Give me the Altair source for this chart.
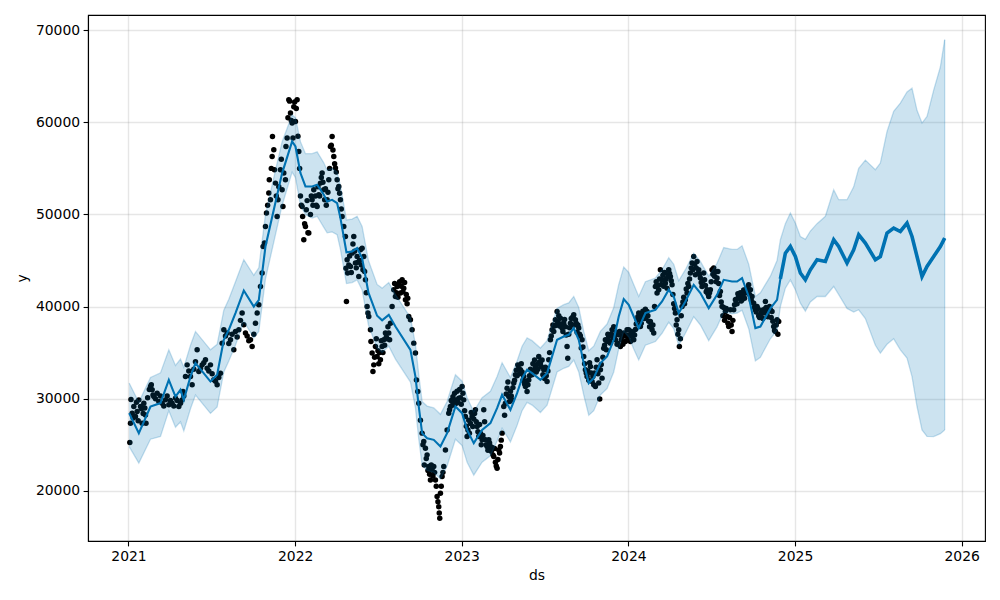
import altair as alt
import pandas as pd

# ---- forecast (ds in decimal years) ----
fc_ds = [
    2021.004, 2021.062, 2021.132, 2021.192, 2021.242, 2021.282, 2021.312, 2021.332, 2021.372, 2021.402,
    2021.492, 2021.532, 2021.572, 2021.602, 2021.642, 2021.692, 2021.752, 2021.782, 2021.822, 2021.872,
    2021.922, 2021.982, 2022.002, 2022.032, 2022.062, 2022.102, 2022.132, 2022.172, 2022.192, 2022.222,
    2022.252, 2022.272, 2022.308, 2022.342, 2022.372, 2022.402, 2022.440, 2022.492, 2022.522, 2022.562,
    2022.602, 2022.692, 2022.722, 2022.742, 2022.762, 2022.792, 2022.832, 2022.872, 2022.912, 2022.962,
    2023.002, 2023.032, 2023.072, 2023.122, 2023.172, 2023.212, 2023.242, 2023.292, 2023.332, 2023.362,
    2023.392, 2023.422, 2023.472, 2023.512, 2023.572, 2023.612, 2023.642, 2023.672, 2023.702, 2023.732,
    2023.762, 2023.792, 2023.832, 2023.872, 2023.912, 2023.942, 2023.972, 2024.002, 2024.032, 2024.062,
    2024.102, 2024.162, 2024.202, 2024.242, 2024.272, 2024.302, 2024.342, 2024.392, 2024.432, 2024.482,
    2024.532, 2024.572, 2024.622, 2024.652, 2024.682, 2024.722, 2024.762, 2024.792, 2024.852, 2024.892,
    2024.912, 2024.942, 2024.972, 2025.002, 2025.032, 2025.062, 2025.092, 2025.132, 2025.182, 2025.232,
    2025.262, 2025.312, 2025.352, 2025.382, 2025.422, 2025.482, 2025.512, 2025.552, 2025.592, 2025.632,
    2025.672, 2025.702, 2025.732, 2025.762, 2025.792, 2025.832, 2025.872, 2025.898,
]
fc_yhat = [
    28430, 26260, 29150, 29520, 32040, 30230, 30960, 29870, 32400, 33860,
    31860, 32590, 36390, 37480, 39290, 41740, 40000, 40700, 46520, 50500,
    54490, 57920, 57380, 54490, 53040, 53040, 53220, 52140, 51410, 51590,
    51230, 49600, 45900, 45980, 46340, 45260, 41500, 39000, 38500, 39100,
    37830, 35300, 32400, 29150, 26260, 25710, 25530, 24800, 26260, 29150,
    28430, 26610, 25170, 26610, 27340, 28970, 30420, 28790, 30600, 32230,
    33130, 32770, 32050, 32770, 36390, 36750, 36930, 37660, 36390, 33860,
    31690, 32230, 33860, 34580, 36390, 38920, 40810, 40190, 38920, 37660,
    39290, 39650, 40550, 41820, 41090, 39290, 40550, 42360, 41460, 39830,
    41270, 42900, 42720, 42720, 43090, 41090, 37660, 37830, 39800, 40730,
    43000, 45800, 46520, 45430, 43640, 42900, 43990, 45080, 44890, 47250,
    46520, 44720, 46160, 47790, 46890, 45080, 45430, 47980, 48520, 48150,
    49060, 47610, 45430, 43260, 44350, 45430, 46520, 47430,
]
fc_lower = [
    24800, 23000, 25600, 25900, 28700, 26900, 27500, 26500, 28900, 30400,
    28400, 29100, 32900, 34100, 35800, 38400, 36600, 37300, 43000, 47000,
    51000, 54600, 54000, 51000, 50000, 49600, 49800, 48600, 48000, 48100,
    47800, 46200, 42500, 42600, 42900, 41800, 38000, 35500, 35000, 35700,
    34300, 31800, 29000, 25600, 22800, 22200, 22000, 21300, 22700, 25600,
    24900, 23100, 21700, 23100, 23800, 25400, 26800, 25300, 27100, 28700,
    29600, 29300, 28500, 29300, 32900, 33300, 33500, 34200, 32900, 30400,
    28200, 28700, 30400, 31100, 32900, 35400, 37300, 36700, 35400, 34200,
    35800, 36200, 37100, 38300, 37600, 35800, 37100, 38900, 38000, 36300,
    37800, 39400, 39200, 39300, 39600, 37600, 34100, 34500, 36500, 37400,
    40000, 42000, 42900, 41820, 40370, 39500, 40500, 41090, 41090, 42180,
    41300, 39800, 39400, 39650, 38700, 35800, 34940, 35900, 36500, 35300,
    34400, 32400, 29150, 26610, 25900, 25890, 26200, 26610,
]
fc_upper = [
    31700, 29600, 32300, 32800, 35300, 33600, 34300, 33400, 35800, 37300,
    35300, 35900, 39600, 40800, 42700, 45100, 43400, 44200, 50000, 54000,
    57900, 60800, 60500, 57900, 56600, 56600, 56800, 55600, 54800, 55000,
    54600, 53100, 49400, 49500, 49800, 48700, 45000, 42400, 42000, 42600,
    41300, 38800, 35900, 32600, 29700, 29200, 29000, 28300, 29700, 32600,
    31900, 30100, 28600, 30100, 30800, 32400, 33900, 32300, 34100, 35700,
    36600, 36300, 35500, 36300, 39800, 40200, 40400, 41100, 39900, 37300,
    35200, 35700, 37300, 38100, 39900, 42400, 44300, 43700, 42400, 41100,
    42700, 43100, 44000, 45300, 44600, 42800, 44000, 45800, 44900, 43300,
    44700, 46400, 46200, 46200, 46600, 44600, 41100, 41500, 43300, 45000,
    47250, 49000, 50150, 49060, 47610, 47300, 48200, 49000, 49800, 52680,
    51600, 51600, 53000, 55000, 55900, 54850, 55580, 59000, 61200, 62090,
    63300, 63700, 61300, 59920, 60640, 63500, 66000, 68970,
]

# ---- observed history (ds in decimal years, y), first pass ----
obs_ds = [
    2021.008, 2021.012, 2021.022, 2021.032, 2021.042, 2021.052, 2021.062, 2021.072, 2021.082, 2021.092,
    2021.102, 2021.105, 2021.132, 2021.142, 2021.152, 2021.172, 2021.202, 2021.222, 2021.242, 2021.262,
    2021.282, 2021.302, 2021.322, 2021.327, 2021.342, 2021.352, 2021.372, 2021.382, 2021.412, 2021.422,
    2021.442, 2021.462, 2021.472, 2021.492, 2021.512, 2021.532, 2021.552, 2021.562, 2021.572, 2021.592,
    2021.612, 2021.632, 2021.642, 2021.662, 2021.682, 2021.692, 2021.702, 2021.712, 2021.732, 2021.742,
    2021.762, 2021.772, 2021.792, 2021.802, 2021.808, 2021.816, 2021.822, 2021.828, 2021.842, 2021.845,
    2021.852, 2021.862, 2021.864, 2021.872, 2021.876, 2021.882, 2021.892, 2021.897, 2021.912, 2021.922,
    2021.927, 2021.942, 2021.945, 2021.952, 2021.962, 2021.972, 2021.982, 2021.992,
    2022.002, 2022.012, 2022.022, 2022.042, 2022.045, 2022.052, 2022.062, 2022.082, 2022.102, 2022.112,
    2022.132, 2022.142, 2022.152, 2022.162, 2022.172, 2022.192, 2022.202, 2022.212, 2022.222, 2022.232,
    2022.242, 2022.252, 2022.262, 2022.272, 2022.282, 2022.292, 2022.302, 2022.305, 2022.308, 2022.312,
    2022.315, 2022.332, 2022.352, 2022.362, 2022.372, 2022.382, 2022.392, 2022.402, 2022.412, 2022.422,
    2022.432, 2022.442, 2022.452, 2022.455, 2022.462, 2022.467, 2022.472, 2022.482, 2022.492, 2022.512,
    2022.522, 2022.532, 2022.542, 2022.552, 2022.562, 2022.572, 2022.582, 2022.592, 2022.602, 2022.612,
    2022.622, 2022.632, 2022.642, 2022.652, 2022.662, 2022.676, 2022.682, 2022.692, 2022.702, 2022.712,
    2022.722, 2022.728, 2022.736, 2022.742, 2022.752, 2022.762, 2022.772, 2022.775, 2022.782, 2022.792,
    2022.802, 2022.812, 2022.822, 2022.832, 2022.842, 2022.852, 2022.862, 2022.868, 2022.872, 2022.882,
    2022.892, 2022.902, 2022.912, 2022.922, 2022.932, 2022.942, 2022.962, 2022.982,
    2023.002, 2023.012, 2023.022, 2023.032, 2023.042, 2023.046, 2023.062, 2023.066, 2023.082, 2023.092,
    2023.112, 2023.122, 2023.132, 2023.142, 2023.152, 2023.162, 2023.172, 2023.192, 2023.212, 2023.222,
    2023.232, 2023.242, 2023.252, 2023.262, 2023.272, 2023.282, 2023.302, 2023.312, 2023.322, 2023.336,
    2023.352, 2023.372, 2023.382, 2023.392, 2023.402, 2023.422, 2023.442, 2023.462, 2023.472, 2023.492,
    2023.512, 2023.522, 2023.532, 2023.542, 2023.552, 2023.562, 2023.572, 2023.592, 2023.602, 2023.612,
    2023.632, 2023.636, 2023.652, 2023.672, 2023.682, 2023.702, 2023.722, 2023.732, 2023.742, 2023.752,
    2023.772, 2023.782, 2023.802, 2023.812, 2023.828, 2023.832, 2023.842, 2023.852, 2023.872, 2023.882,
    2023.892, 2023.902, 2023.922, 2023.932, 2023.942, 2023.952, 2023.962, 2023.972, 2023.982, 2023.992,
    2024.002, 2024.022, 2024.032, 2024.052, 2024.062, 2024.072, 2024.082, 2024.092, 2024.112, 2024.132,
    2024.142, 2024.152, 2024.162, 2024.172, 2024.182, 2024.192, 2024.202, 2024.222, 2024.242, 2024.252,
    2024.262, 2024.282, 2024.292, 2024.302, 2024.306, 2024.322, 2024.342, 2024.352, 2024.362, 2024.372,
    2024.382, 2024.392, 2024.402, 2024.412, 2024.422, 2024.432, 2024.442, 2024.452, 2024.472, 2024.482,
    2024.492, 2024.502, 2024.522, 2024.532, 2024.552, 2024.582, 2024.592, 2024.602, 2024.612, 2024.622,
    2024.632, 2024.642, 2024.662, 2024.682, 2024.702, 2024.722, 2024.732, 2024.742, 2024.752, 2024.762,
    2024.772, 2024.792, 2024.812, 2024.822, 2024.832, 2024.852, 2024.862, 2024.872, 2024.882, 2024.892,
    2024.902,
]
obs_y = [
    25240, 27340, 28430, 29150, 28060, 28610, 29870, 29150, 27340, 29510,
    28240, 27340, 31320, 30960, 30240, 30600, 29510, 29870, 29330, 29510,
    30060, 29150, 29870, 30780, 32400, 33670, 32400, 31500, 35300, 32950,
    33670, 34220, 33310, 33670, 32050, 31500, 32770, 36030, 37480, 37120,
    36390, 35300, 37300, 37480, 39290, 38020, 37120, 36800, 36390, 35660,
    38200, 39290, 42180, 43640, 46520, 46890, 48700, 50150, 52320, 53760,
    51590, 56290, 58470, 57020, 54850, 53400, 49780, 51590, 54850, 52680,
    50860, 53760, 57380, 58290, 62450, 61010, 59920, 61680,
    60100, 62450, 56840, 50860, 49780, 47250, 48700, 47980, 51590, 52680,
    50860, 52140, 53400, 54490, 52680, 51590, 53760, 57380, 58470, 56290,
    55030, 53760, 53040, 51590, 49780, 48700, 47610, 44170, 40550, 45080,
    43640, 44350, 47610, 44720, 45430, 43260, 46160, 46340, 45430, 42900,
    40000, 38920, 37480, 36210, 34950, 32950, 33670, 35660, 34580, 34220,
    35660, 36390, 37120, 36500, 37120, 38200, 40000, 41820, 41090, 42180,
    42360, 41460, 42900, 41990, 40730, 40910, 38920, 38560, 37480, 36030,
    34950, 32040, 30780, 29510, 27660, 26260, 25350, 22810, 24630, 23900,
    22630, 21180, 22270, 22630, 21180, 19370, 18280, 17020, 19740, 21550,
    22630, 24440, 26610, 28430, 29150, 29690, 29870, 30060,
    31320, 29870, 28060, 25890, 27660, 26260, 28060, 26970, 28790, 26970,
    26260, 25530, 28790, 25530, 24800, 25530, 24800, 23720, 22450, 24440,
    24800, 26260, 29150, 29510, 31140, 30240, 29870, 31690, 32590, 33670,
    33130, 32410, 31320, 30780, 32040, 32590, 33490, 34580, 33860, 33130,
    31860, 34220, 36390, 37480, 37300, 38560, 39470, 38740, 37660, 38200,
    35660, 34400, 38200, 39100, 38560, 37660, 36390, 34580, 33130, 32410,
    33490, 31860, 31320, 34220, 29960, 33130, 32230, 35480, 36210, 36750,
    36030, 37480, 36390, 35900, 36930, 35660, 36750, 37120, 36210, 37480,
    37480, 36750, 36390, 38560, 39290, 37830, 38920, 39290, 39470, 38380,
    37480, 37120, 42180, 41460, 41820, 43990, 42900, 42540, 43990, 43270,
    42360, 39290, 38560, 37480, 35660, 40000, 40730, 41460, 42180, 43640,
    44720, 45430, 43450, 44890, 43990, 43090, 42180, 43640, 41820, 41090,
    41820, 43990, 43810, 43090, 41640, 39470, 38920, 37830, 39650, 37300,
    39650, 40730, 41090, 40730, 41460, 42360, 41820, 41090, 40370, 39650,
    40000, 38920, 39290, 40550, 39290, 39650, 39470, 37830, 37300, 38560,
    38380,
]

# ---- observed history, second pass (denser clusters) ----
obs_more_ds = [
    2021.015, 2021.028, 2021.048, 2021.058, 2021.078, 2021.088, 2021.098, 2021.115, 2021.125, 2021.137,
    2021.147, 2021.162, 2021.182, 2021.192, 2021.212, 2021.232, 2021.252, 2021.272, 2021.292, 2021.312,
    2021.332, 2021.362, 2021.392, 2021.402, 2021.432, 2021.452, 2021.482, 2021.502, 2021.522, 2021.542,
    2021.582, 2021.602, 2021.622, 2021.652, 2021.672, 2021.722, 2021.752, 2021.782, 2021.835, 2021.857,
    2021.887, 2021.902, 2021.917, 2021.932, 2021.957, 2021.967, 2021.977, 2021.987, 2021.997, 2022.007,
    2022.017, 2022.027, 2022.032, 2022.037, 2022.057, 2022.067, 2022.072, 2022.077, 2022.092, 2022.097,
    2022.107, 2022.122, 2022.127, 2022.137, 2022.147, 2022.157, 2022.167, 2022.177, 2022.182, 2022.187,
    2022.197, 2022.207, 2022.217, 2022.227, 2022.237, 2022.247, 2022.257, 2022.267, 2022.277, 2022.322,
    2022.327, 2022.337, 2022.342, 2022.347, 2022.357, 2022.367, 2022.377, 2022.387, 2022.397, 2022.407,
    2022.417, 2022.427, 2022.437, 2022.477, 2022.487, 2022.497, 2022.502, 2022.507, 2022.517, 2022.527,
    2022.537, 2022.547, 2022.557, 2022.567, 2022.597, 2022.607, 2022.617, 2022.627, 2022.637, 2022.647,
    2022.657, 2022.667, 2022.672, 2022.767, 2022.787, 2022.797, 2022.807, 2022.817, 2022.827, 2022.837,
    2022.847, 2022.857, 2022.865, 2022.877, 2022.887, 2022.927, 2022.937, 2022.947, 2022.952, 2022.957,
    2022.967, 2022.972, 2022.977, 2022.987, 2022.992, 2022.997, 2023.007, 2023.017, 2023.027, 2023.037,
    2023.052, 2023.057, 2023.072, 2023.077, 2023.087, 2023.097, 2023.102, 2023.107, 2023.117, 2023.127,
    2023.137, 2023.147, 2023.157, 2023.167, 2023.177, 2023.182, 2023.187, 2023.197, 2023.202, 2023.207,
    2023.217, 2023.227, 2023.237, 2023.257, 2023.267, 2023.277, 2023.287, 2023.292, 2023.297, 2023.307,
    2023.317, 2023.327, 2023.332, 2023.342, 2023.347, 2023.357, 2023.362, 2023.367, 2023.377, 2023.387,
    2023.397, 2023.407, 2023.412, 2023.417, 2023.427, 2023.432, 2023.437, 2023.447, 2023.452, 2023.457,
    2023.467, 2023.477, 2023.482, 2023.487, 2023.497, 2023.502, 2023.507, 2023.517, 2023.527, 2023.537,
    2023.547, 2023.557, 2023.567, 2023.577, 2023.582, 2023.587, 2023.597, 2023.607, 2023.617, 2023.622,
    2023.627, 2023.642, 2023.647, 2023.657, 2023.662, 2023.667, 2023.677, 2023.687, 2023.692, 2023.697,
    2023.707, 2023.712, 2023.717, 2023.727, 2023.737, 2023.747, 2023.757, 2023.762, 2023.767, 2023.777,
    2023.787, 2023.792, 2023.797, 2023.807, 2023.817, 2023.822, 2023.837, 2023.847, 2023.857, 2023.862,
    2023.867, 2023.877, 2023.887, 2023.897, 2023.907, 2023.912, 2023.917, 2023.927, 2023.937, 2023.947,
    2023.957, 2023.967, 2023.977, 2023.987, 2023.997, 2024.007, 2024.012, 2024.017, 2024.027, 2024.037,
    2024.042, 2024.047, 2024.057, 2024.067, 2024.077, 2024.087, 2024.097, 2024.102, 2024.107, 2024.117,
    2024.122, 2024.127, 2024.137, 2024.147, 2024.157, 2024.167, 2024.177, 2024.187, 2024.197, 2024.207,
    2024.212, 2024.217, 2024.227, 2024.232, 2024.237, 2024.247, 2024.257, 2024.267, 2024.272, 2024.277,
    2024.287, 2024.297, 2024.312, 2024.317, 2024.327, 2024.332, 2024.337, 2024.347, 2024.357, 2024.367,
    2024.377, 2024.387, 2024.397, 2024.407, 2024.417, 2024.427, 2024.437, 2024.447, 2024.457, 2024.462,
    2024.467, 2024.477, 2024.487, 2024.497, 2024.507, 2024.512, 2024.517, 2024.527, 2024.537, 2024.542,
    2024.547, 2024.557, 2024.562, 2024.567, 2024.572, 2024.577, 2024.587, 2024.597, 2024.607, 2024.617,
    2024.627, 2024.637, 2024.647, 2024.652, 2024.657, 2024.667, 2024.672, 2024.677, 2024.687, 2024.692,
    2024.697, 2024.707, 2024.712, 2024.717, 2024.727, 2024.737, 2024.747, 2024.757, 2024.767, 2024.777,
    2024.782, 2024.787, 2024.797, 2024.802, 2024.807, 2024.817, 2024.827, 2024.837, 2024.842, 2024.847,
    2024.857, 2024.867, 2024.877, 2024.887, 2024.897,
]
obs_more_y = [
    29900, 27900, 29600, 27600, 28900, 28400, 29000, 30100, 31000, 31500,
    30400, 30000, 29700, 30300, 29200, 30300, 29800, 29200, 29800, 29500,
    30300, 33000, 33200, 34000, 33300, 33900, 33000, 32700, 31900, 32300,
    36800, 36000, 37000, 36700, 38500, 36300, 37000, 40200, 51000, 55000,
    52000, 53000, 56000, 54500, 60500, 62300, 60200, 58300, 62200, 61500,
    58500, 55000, 52000, 51000, 49000, 50500, 51500, 48000, 50000, 52000,
    51000, 52000, 51000, 53000, 52000, 54000, 53500, 51600, 52800, 51000,
    52400, 55000, 57500, 57000, 55500, 54600, 52800, 52300, 50600, 44500,
    45500, 43700, 45800, 46800, 46000, 44200, 44800, 45000, 44500, 44000,
    43800, 41500, 39300, 34500, 36500, 35200, 33800, 35000, 36300, 35000,
    35800, 36700, 37800, 36400, 42500, 41500, 41000, 42700, 42200, 41600,
    42600, 41300, 40300, 25000, 23500, 22200, 21800, 22800, 21600, 22000,
    20500, 18800, 17600, 20500, 22000, 28800, 29800, 30200, 29300, 30600,
    29500, 30800, 29600, 31000, 30100, 29400, 30600, 28700, 27000, 26600,
    27300, 28500, 27800, 28400, 27500, 26400, 25900, 27200, 25000, 26000,
    27500, 25000, 24400, 25200, 24300, 24700, 23900, 24600, 23100, 22700,
    23400, 24100, 25500, 28200, 30500, 31800, 29700, 30800, 30300, 31200,
    32000, 33100, 32500, 33300, 32700, 33800, 32900, 32000, 31600, 31900,
    31500, 32500, 33200, 33000, 33800, 33100, 34200, 32900, 33700, 33200,
    34000, 33500, 34200, 32600, 32200, 33400, 32500, 33000, 35000, 36800,
    38000, 37900, 38000, 38300, 39000, 37900, 38100, 37300, 38600, 37800,
    36900, 37000, 37700, 38700, 38000, 38900, 38000, 38200, 37200, 38000,
    37000, 36800, 35500, 35600, 33800, 32800, 33000, 32000, 33900, 32800,
    32400, 31500, 32800, 33400, 32700, 31700, 33700, 34500, 35800, 36400,
    35300, 37000, 36200, 37000, 36600, 37800, 36800, 37200, 36000, 37300,
    36400, 35900, 36800, 36900, 36600, 36900, 36200, 37300, 37100, 36900,
    37500, 38100, 38900, 38600, 38200, 39500, 38700, 39700, 38900, 39000,
    38400, 37800, 37900, 38000, 40000, 42700, 42300, 43000, 42400, 43400,
    42200, 43700, 43000, 42000, 43300, 43600, 42800, 41300, 40300, 39800,
    38000, 37000, 36500, 39000, 40500, 41000, 40300, 41900, 42500, 43000,
    44200, 44000, 44600, 44200, 43600, 43500, 42600, 42800, 42900, 42300,
    41600, 41400, 41500, 42700, 43500, 44200, 43300, 42700, 43800, 42500,
    41200, 40500, 40000, 39000, 39900, 38500, 39800, 38200, 38800, 38000,
    38500, 40200, 40800, 40300, 41400, 40900, 41500, 40600, 41200, 41800,
    40900, 41900, 42000, 41600, 41300, 40700, 40400, 39900, 39400, 39800,
    39000, 38800, 39300, 39600, 38700, 39700, 39900, 38900, 39800, 40000,
    38800, 38400, 37400, 38000, 37000,
]

x_ticks = [2021, 2022, 2023, 2024, 2025, 2026]
y_ticks = [20000, 30000, 40000, 50000, 60000, 70000]

fc = pd.DataFrame({"ds": fc_ds, "yhat": fc_yhat, "yhat_lower": fc_lower, "yhat_upper": fc_upper})
obs = pd.DataFrame({"ds": obs_ds + obs_more_ds, "y": obs_y + obs_more_y})

BLUE = "#0072B2"
xs = alt.Scale(domain=[2020.757, 2026.14], nice=False, zero=False)
ys = alt.Scale(domain=[14550, 71650], nice=False, zero=False)
xax = alt.Axis(values=x_ticks, format="d", title="ds")
yax = alt.Axis(values=y_ticks, format="d", title="y")


def X():
    return alt.X("ds:Q", scale=xs, axis=xax)


def Y(field):
    return alt.Y(field + ":Q", scale=ys, axis=yax)


dots = alt.Chart(obs).mark_circle(color="black", opacity=1, size=30).encode(x=X(), y=Y("y"))
line = alt.Chart(fc).mark_line(color=BLUE, strokeWidth=2.1).encode(x=X(), y=Y("yhat"))
line_fc = (
    alt.Chart(fc)
    .transform_filter("datum.ds >= 2024.9")
    .mark_line(color=BLUE, strokeWidth=3.6)
    .encode(x=X(), y=Y("yhat"))
)
band = alt.Chart(fc).mark_area(color=BLUE, opacity=0.2).encode(
    x=X(), y=Y("yhat_lower"), y2="yhat_upper:Q"
)
edge_u = alt.Chart(fc).mark_line(color=BLUE, opacity=0.22, strokeWidth=1.3).encode(x=X(), y=Y("yhat_upper"))
edge_l = alt.Chart(fc).mark_line(color=BLUE, opacity=0.22, strokeWidth=1.3).encode(x=X(), y=Y("yhat_lower"))
edge_end = (
    alt.Chart(fc)
    .transform_filter("datum.ds >= 2025.89")
    .mark_rule(color=BLUE, opacity=0.22, strokeWidth=1.3)
    .encode(x=X(), y=Y("yhat_lower"), y2="yhat_upper:Q")
)

chart = (
    alt.layer(dots, line, line_fc, band, edge_u, edge_l, edge_end)
    .properties(
        width=897,
        height=526,
        autosize=alt.AutoSizeParams(type="none"),
        padding={"left": 88, "top": 15, "right": 15, "bottom": 59},
        background="white",
    )
    .configure_view(stroke="black", strokeWidth=1.1)
    .configure_axis(
        labelFont="DejaVu Sans",
        labelFontSize=13.9,
        labelColor="black",
        titleFont="DejaVu Sans",
        titleFontSize=13.9,
        titleFontWeight="normal",
        titleColor="black",
        tickColor="black",
        tickSize=4.9,
        tickWidth=1.1,
        labelPadding=3.5,
        domainColor="black",
        domainWidth=1.1,
        gridColor="#808080",
        gridOpacity=0.2,
        gridWidth=1.4,
    )
    .configure_axisX(titlePadding=5)
    .configure_axisY(titlePadding=6)
)

chart.save("out.html", embed_options={"renderer": "svg", "actions": False})
